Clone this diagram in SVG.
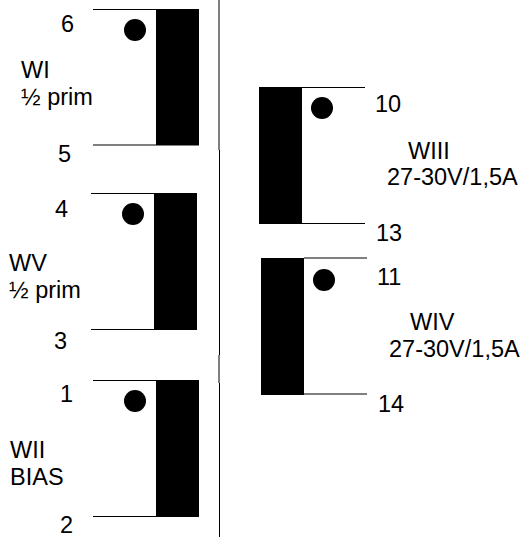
<svg xmlns="http://www.w3.org/2000/svg" width="523" height="537" viewBox="0 0 523 537">
<style>
text{font-family:"Liberation Sans",Arial,sans-serif;font-size:23.5px;fill:#000}
.w{stroke:#000;stroke-width:1;fill:none}
</style>
<rect width="523" height="537" fill="#fff"/>
<g id="connectors"><path class="w" d="M219 0V150M219.500 150V355M219 355V383M219.500 383V537"/></g>
<g id="WI"><path class="w" d="M93 9.500H156M93 145H156"/><rect x="156" y="9" width="43" height="136.500"/><circle cx="135" cy="30" r="11"/>
<text x="61" y="32">6</text><text x="58" y="162">5</text><text x="21" y="78">WI</text><text x="21" y="105">½ prim</text></g>
<g id="WV"><path class="w" d="M91 193.500H154M91 329.500H154"/><rect x="154" y="193" width="43" height="137"/><circle cx="133" cy="214" r="11"/>
<text x="55" y="217">4</text><text x="54" y="349">3</text><text x="9" y="271">WV</text><text x="9" y="298">½ prim</text></g>
<g id="WII"><path class="w" d="M93 380.500H156M93 516.500H156"/><rect x="156" y="380" width="43" height="137"/><circle cx="135" cy="401" r="11"/>
<text x="60" y="402">1</text><text x="60" y="533">2</text><text x="10" y="458">WII</text><text x="10" y="485">BIAS</text></g>
<g id="WIII"><path class="w" d="M302 87.500H365M302 223.500H365"/><rect x="259" y="87" width="43" height="137"/><circle cx="322" cy="108" r="11"/>
<text x="375" y="112">10</text><text x="408" y="159">WIII</text><text x="387" y="185">27-30V/1,5A</text><text x="376" y="241">13</text></g>
<g id="WIV"><path class="w" d="M304 258H367M304 394H367"/><rect x="261" y="258" width="43" height="137"/><circle cx="324" cy="280" r="11"/>
<text x="377" y="285">11</text><text x="410" y="330">WIV</text><text x="389" y="357">27-30V/1,5A</text><text x="378" y="412">14</text></g>
</svg>
